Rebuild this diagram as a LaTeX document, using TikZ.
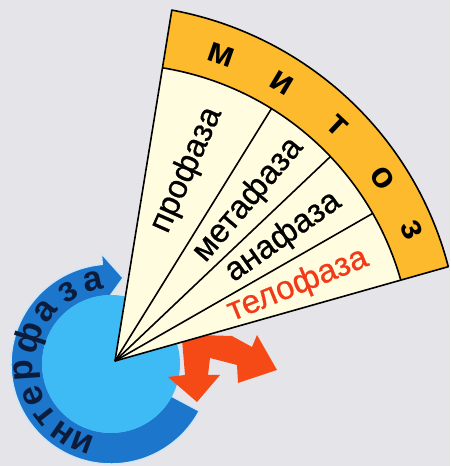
\documentclass[tikz,border=0pt]{standalone}
\usepackage{fontspec}
\setmainfont{Liberation Sans}
\newfontfamily\phasefont[FakeBold=0.7]{Liberation Sans}
\definecolor{bg}{RGB}{229,229,233}
\definecolor{cream}{RGB}{255,252,224}
\definecolor{gold}{RGB}{252,186,44}
\definecolor{ringblue}{RGB}{28,118,204}
\definecolor{discblue}{RGB}{62,186,245}
\definecolor{arroworange}{RGB}{246,74,22}
\definecolor{telored}{RGB}{240,58,24}
\definecolor{ringtext}{RGB}{12,28,60}
\definecolor{halo}{RGB}{205,230,248}
\begin{document}
\begin{tikzpicture}[x=1pt,y=1pt,
  phase/.style={font=\phasefont\fontsize{33}{33}\selectfont, inner sep=0pt},
  mitletter/.style={font=\fontsize{36}{36}\selectfont\bfseries, inner sep=0pt},
  intletter/.style={font=\fontsize{35}{35}\selectfont\bfseries, inner sep=0pt, text=ringtext},
  fanedge/.style={line width=1.6pt, line join=round}]
\fill[bg] (0,0) rectangle (450,466);
\useasboundingbox (0,0) rectangle (450,466);
% interphase ring with arrowhead
\begin{scope}[shift={(111,102)}]
  \filldraw[fill=ringblue, draw=halo, line width=1.5pt, line join=round]
    (-28:100) arc[start angle=-28, end angle=-265, radius=100]
    -- (95:111) -- (82:87) -- (95:62) -- (95:68)
    arc[start angle=-265, end angle=-28, radius=68] -- cycle;
  \fill[discblue] (0,0) circle (69);
  \foreach \a/\l [count=\i] in {250/и,235/н,218/т,202/е,184/р,162/ф,141/а,121/з,102/а}
    \node[intletter, rotate=\a-90] (int\i) at (\a:84) {\l};
\end{scope}
% orange split arrow
\fill[arroworange] (182,127) -- (185,91) -- (168,89) -- (197,64) -- (220,91) -- (208,91)
  -- (210,108) -- (237,101) -- (238,83) -- (277,96) -- (257,131) -- (252,119)
  -- (232,130) -- (198,131) -- cycle;
% mitosis fan
\begin{scope}[shift={(115,105)}]
  \fill[cream] (0,0) -- (80.8:297) arc[start angle=80.8, end angle=15.8, radius=297] -- cycle;
  \fill[gold] (80.8:297) -- plot[domain=80.8:15.8, samples=60] (\x:{346.4+9.1*(\x-15.8)/65})
    -- (15.8:297) arc[start angle=15.8, end angle=80.8, radius=297] -- cycle;
  \draw[fanedge] (0,0) -- plot[domain=80.8:15.8, samples=60] (\x:{346.4+9.1*(\x-15.8)/65}) -- cycle;
  \draw[fanedge] (80.8:297) arc[start angle=80.8, end angle=15.8, radius=297];
  \draw[fanedge] (0,0) -- (58.2:297);
  \draw[fanedge] (0,0) -- (43.5:297);
  \draw[fanedge] (0,0) -- (29.8:297);
  \node[phase, rotate=66] (pro) at (69.4:204) {профаза};
  \node[phase, rotate=49.6] (meta) at (50.4:209) {метафаза};
  \node[phase, rotate=35.3] (ana) at (36.4:209) {анафаза};
  \node[phase, rotate=22.2, text=telored] (telo) at (22.5:198) {телофаза};
  \foreach \a/\l [count=\i] in {70.8/м,59.1/и,46.6/т,34.4/о,23.8/з}
    \node[mitletter, rotate=\a-90] (mit\i) at (\a:324) {\l};
\end{scope}
\end{tikzpicture}
\end{document}
